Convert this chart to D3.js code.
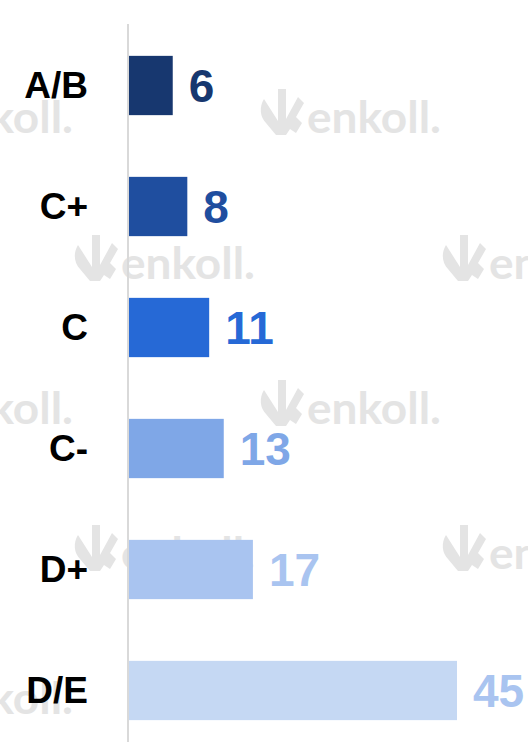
<!DOCTYPE html>
<html>
<head>
<meta charset="utf-8">
<script src="https://cdn.jsdelivr.net/npm/d3@7"></script>
<style>
  html, body { margin: 0; padding: 0; background: #fff; }
  #canvas { width: 528px; height: 742px; }
</style>
</head>
<body>
<div id="canvas" class="canvas"></div>
<script>
// --- data
var categories = ["A/B", "C+", "C", "C-", "D+", "D/E"];
var values = [6, 8, 11, 13, 17, 45];
var barColors = ["#17376f", "#1f4e9f", "#2669d6", "#7fa7e7", "#a9c4f0", "#c5d8f3"];
var labelColors = ["#17376f", "#1f4e9f", "#2669d6", "#7fa7e7", "#a9c4f0", "#a9c4f0"];

var W = 528, H = 742;

var svg = d3.select('.canvas')
  .append('svg')
  .attr('width', W)
  .attr('height', H);

// --- watermark (enkoll.) behind everything
var wm = svg.append('g').attr('fill', '#e4e4e4');
var logoPath = "M6,12 C1,20 2,30 8,36 L18,48 L28,48 L32,42 L38,46 L44,36 L38,30 L46,16 L40,10 L28,32 L28,2 L20,2 L20,34 Z";
var rows = [133, 279, 424, 569, 714];
rows.forEach(function(base, r) {
  var start = (r % 2 === 0) ? 258 - 368 : 72;
  for (var lx = start; lx < W; lx += 368) {
    wm.append('path')
      .attr('d', logoPath)
      .attr('transform', 'translate(' + lx + ',' + (base - 46) + ')');
    wm.append('text')
      .attr('x', lx + 49)
      .attr('y', base)
      .attr('font-family', 'Lato, sans-serif')
      .attr('font-weight', 'bold')
      .attr('font-size', '44px')
      .attr('textLength', 134)
      .attr('lengthAdjust', 'spacingAndGlyphs')
      .text('enkoll.');
  }
});

// --- scales
var x = d3.scaleLinear()
  .domain([0, 45])
  .range([129, 457]);

var y = d3.scaleBand()
  .domain(categories)
  .range([25, 751])
  .paddingInner(0.51)
  .paddingOuter(0.255);

// --- axis line
svg.append('line')
  .attr('x1', 128).attr('x2', 128)
  .attr('y1', 24).attr('y2', H)
  .attr('stroke', '#d9d9d9')
  .attr('stroke-width', 2);

// --- bars
svg.selectAll('rect.bar')
  .data(values)
  .enter()
  .append('rect')
  .attr('class', 'bar')
  .attr('x', x(0))
  .attr('y', function(d, i) { return y(categories[i]); })
  .attr('width', function(d) { return x(d) - x(0); })
  .attr('height', y.bandwidth())
  .attr('fill', function(d, i) { return barColors[i]; });

// --- value labels
svg.selectAll('text.val')
  .data(values)
  .enter()
  .append('text')
  .attr('class', 'val')
  .attr('x', function(d) { return x(d) + 16; })
  .attr('y', function(d, i) { return y(categories[i]) + y.bandwidth() / 2; })
  .attr('dy', '0.35em')
  .attr('font-family', '"Liberation Sans", Arial, sans-serif')
  .attr('font-weight', 'bold')
  .attr('font-size', '46px')
  .attr('fill', function(d, i) { return labelColors[i]; })
  .text(function(d) { return d; });

// --- category labels
svg.selectAll('text.cat')
  .data(categories)
  .enter()
  .append('text')
  .attr('class', 'cat')
  .attr('x', 88)
  .attr('y', function(d) { return y(d) + y.bandwidth() / 2; })
  .attr('dy', '0.35em')
  .attr('text-anchor', 'end')
  .attr('font-family', '"Liberation Sans", Arial, sans-serif')
  .attr('font-weight', 'bold')
  .attr('font-size', '37px')
  .attr('fill', '#000')
  .text(function(d) { return d; });
</script>
</body>
</html>
